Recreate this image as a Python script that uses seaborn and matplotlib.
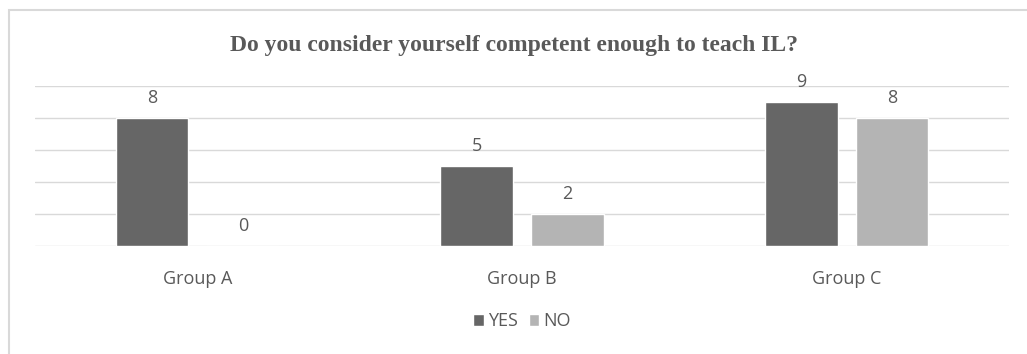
import pandas as pd
import matplotlib.pyplot as plt
import seaborn as sns
from matplotlib.patches import Rectangle

groups = ["Group A", "Group B", "Group C"]
yes_counts = [8, 5, 9]
no_counts = [0, 2, 8]
answers = ["YES", "NO"]

df = pd.DataFrame({
    "group": groups * 2,
    "answer": ["YES"] * 3 + ["NO"] * 3,
    "count": yes_counts + no_counts,
})

sns.set_style("white")
plt.rcParams["font.family"] = ["Open Sans", "DejaVu Sans"]

fig = plt.figure(figsize=(10.27, 3.54), dpi=100)
ax = fig.add_axes([35 / 1027, 108 / 354, 974 / 1027, 160 / 354])

sns.barplot(
    data=df, x="group", y="count", hue="answer", hue_order=answers,
    palette={"YES": "#666666", "NO": "#b4b4b4"},
    width=0.56, gap=0.2, ax=ax, legend=True,
)

for cont in ax.containers:
    ax.bar_label(cont, padding=8, fontsize=13, color="#595959")

ax.set_ylim(0, 10)
ax.set_xlim(-0.5, 2.5)
ax.set_yticks(range(0, 11, 2))
ax.yaxis.grid(True, color="#d9d9d9", linewidth=1)
ax.set_axisbelow(True)
ax.set_yticklabels([])
ax.tick_params(axis="y", length=0)
ax.tick_params(axis="x", length=0, labelsize=13, labelcolor="#595959", pad=17)
ax.set_xlabel("")
ax.set_ylabel("")
for s in ax.spines.values():
    s.set_visible(False)

ax.legend(
    loc="center", bbox_to_anchor=(0.5, -0.47), ncol=2, frameon=False,
    fontsize=13, labelcolor="#595959", handlelength=0.6, handleheight=0.6,
    handletextpad=0.2, columnspacing=0.6,
)

fig.text(0.5, 1 - 45 / 354, "Do you consider yourself competent enough to teach IL?",
         ha="center", va="center", fontsize=17, fontweight="bold",
         family="Liberation Serif", color="#595959")

fig.patches.append(Rectangle((9 / 1027, -0.1), 1.2, 1 - 10 / 354 + 0.1,
                             transform=fig.transFigure, fill=False,
                             edgecolor="#d9d9d9", linewidth=1.5))

fig.savefig("out.png", dpi=100)
